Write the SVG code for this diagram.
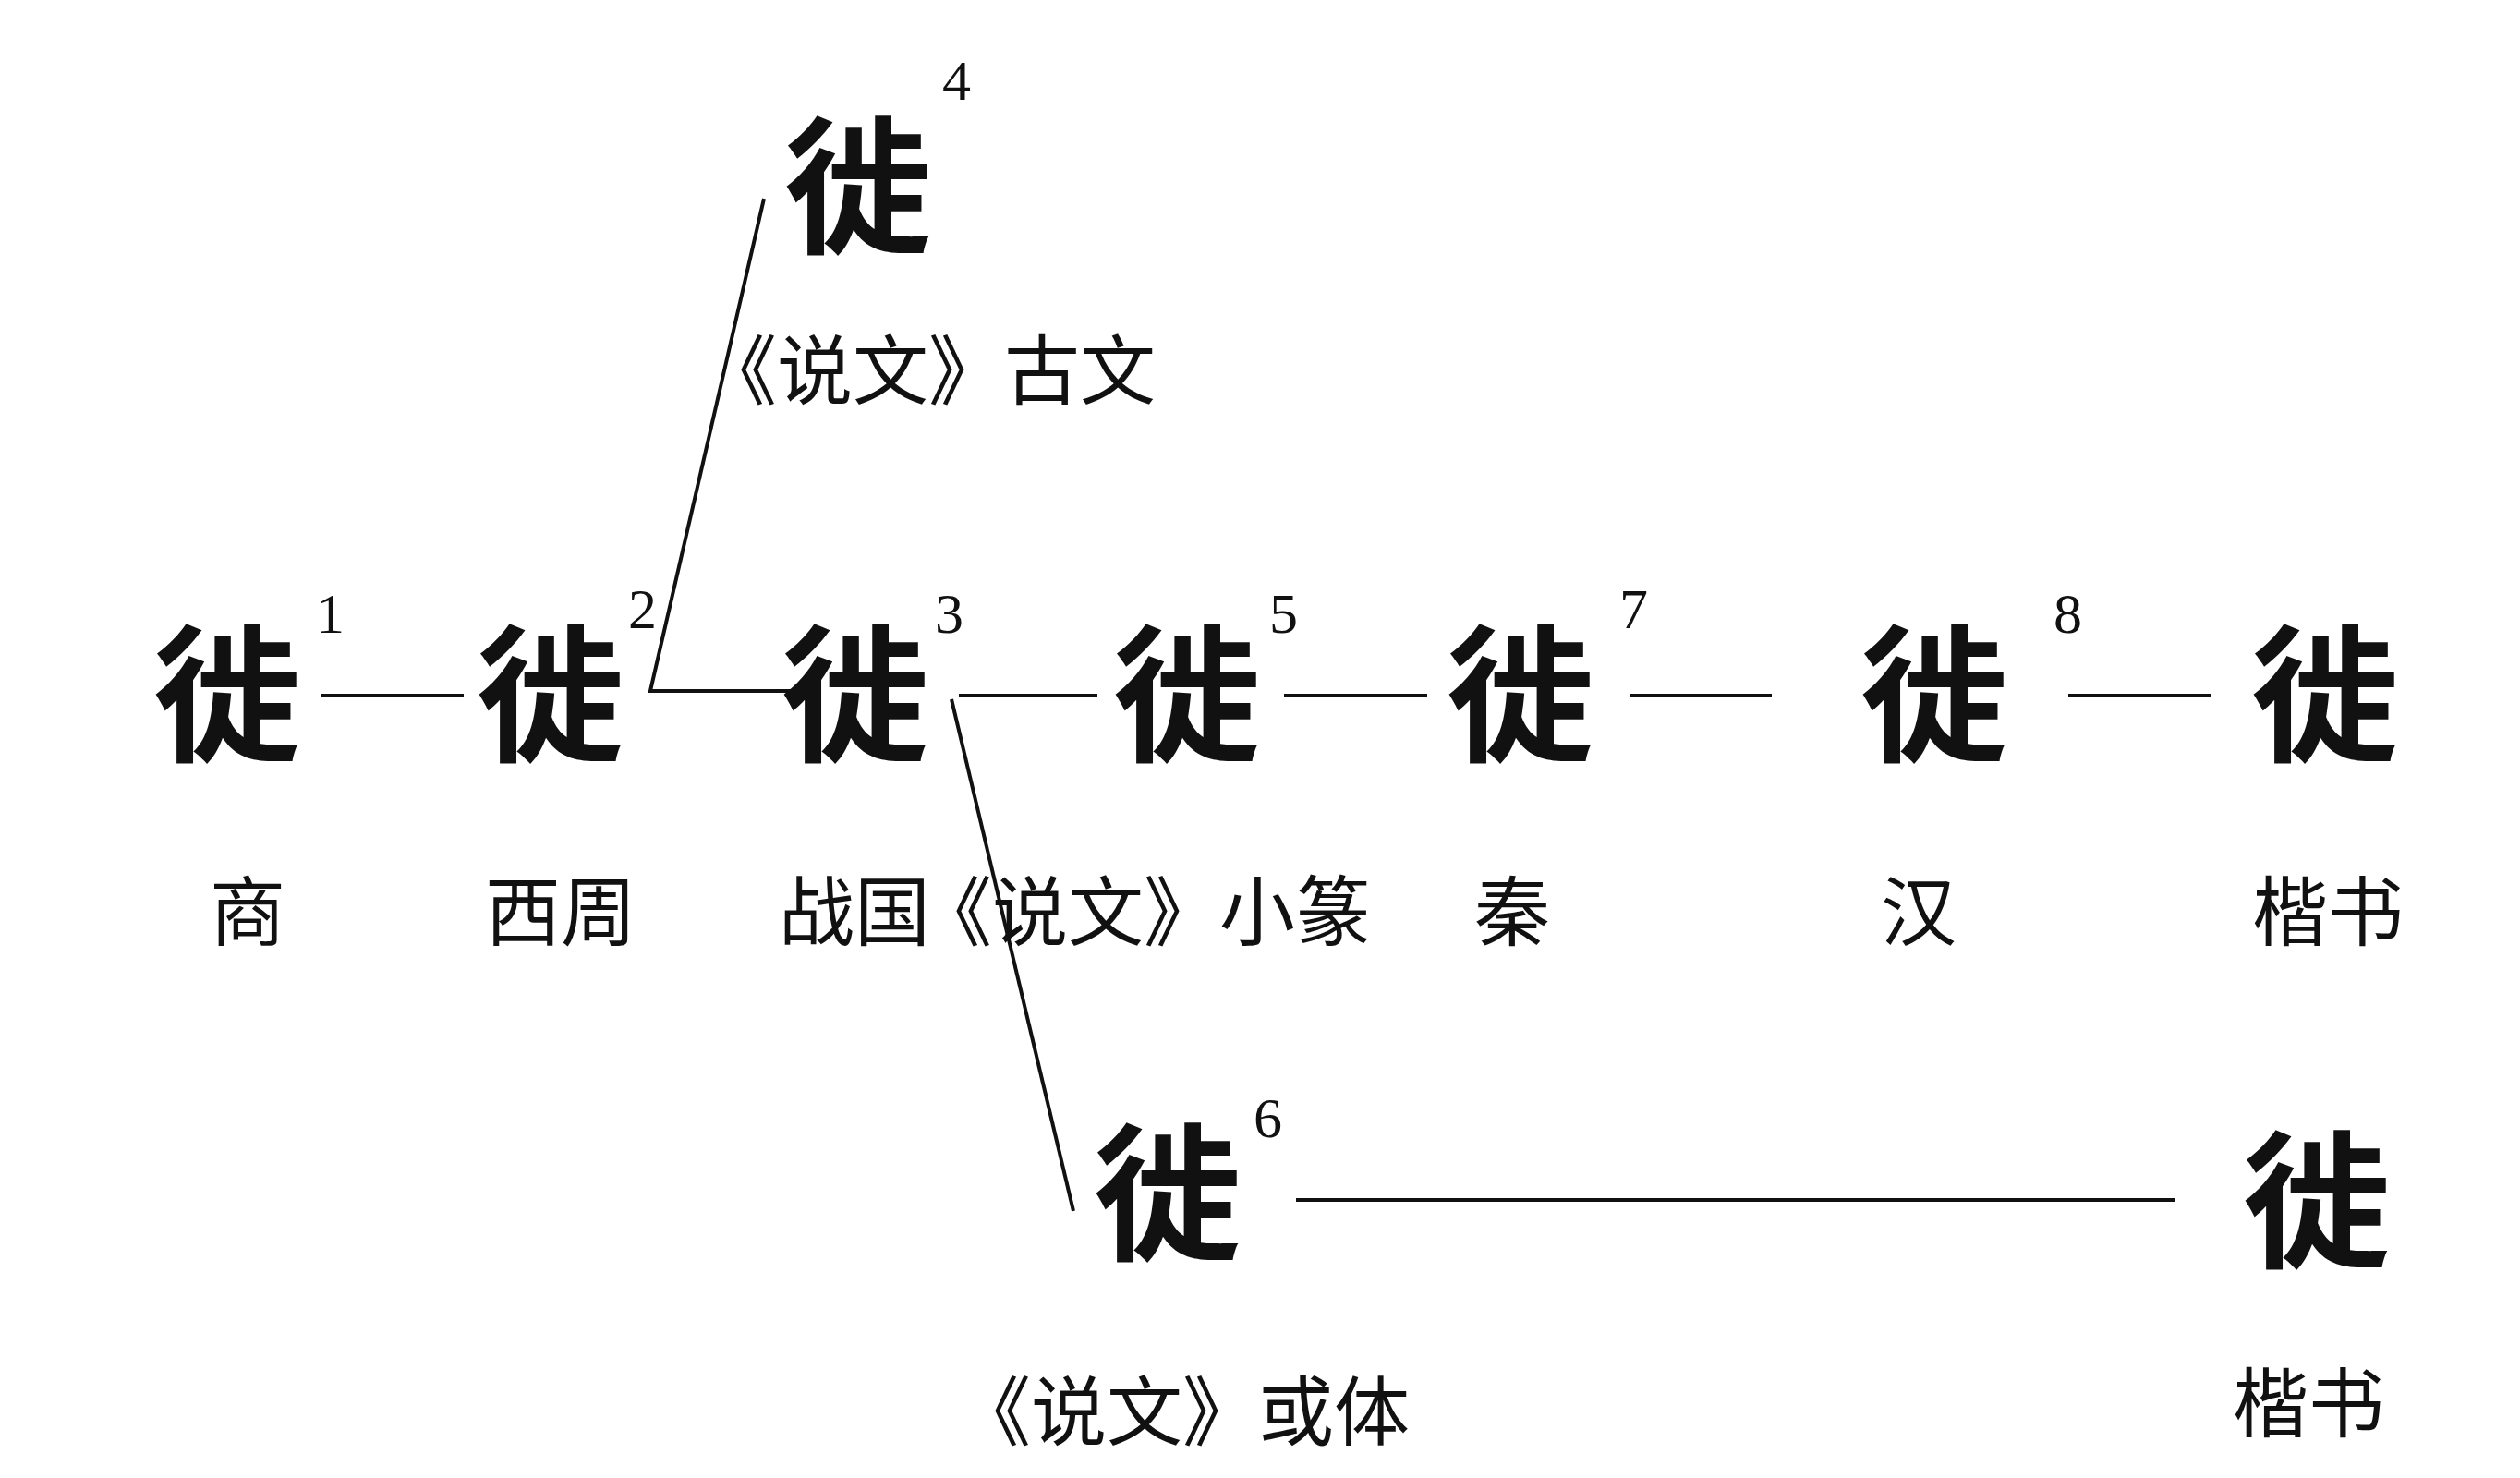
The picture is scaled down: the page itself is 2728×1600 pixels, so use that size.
<svg xmlns="http://www.w3.org/2000/svg" width="2728" height="1600" viewBox="0 0 2728 1600">
<style>
.g{font-family:"Noto Sans CJK SC",sans-serif;font-size:160px;font-weight:700;text-anchor:middle;fill:#111}
.l{font-family:"Noto Sans CJK SC",sans-serif;font-size:82px;text-anchor:middle;fill:#111}
.n{font-family:"Liberation Serif",serif;font-size:62px;fill:#111}
.c{stroke:#111;stroke-width:4;fill:none}
</style>
<rect width="2728" height="1600" fill="#fff"/>
<g id="connectors">
<line class="c" x1="347" y1="753" x2="502" y2="753"/>
<polyline class="c" points="827,215 704,748 862,748"/>
<line class="c" x1="1038" y1="753" x2="1188" y2="753"/>
<line class="c" x1="1030" y1="757" x2="1162" y2="1311"/>
<line class="c" x1="1390" y1="753" x2="1545" y2="753"/>
<line class="c" x1="1765" y1="753" x2="1918" y2="753"/>
<line class="c" x1="2239" y1="753" x2="2394" y2="753"/>
<line class="c" x1="1403" y1="1299" x2="2355" y2="1299"/>
</g>
<g id="n1"><text class="g" x="246" y="812">徙</text><text class="n" x="342" y="685">1</text><text class="l" x="268" y="1017">商</text></g>
<g id="n2"><text class="g" x="596" y="812">徙</text><text class="n" x="680" y="680">2</text><text class="l" x="607" y="1017">西周</text></g>
<g id="n3"><text class="g" x="926" y="812">徙</text><text class="n" x="1012" y="685">3</text><text class="l" x="925" y="1017">战国</text></g>
<g id="n4"><text class="g" x="929" y="262">徙</text><text class="n" x="1020" y="108">4</text><text class="l" x="1005" y="431">《说文》古文</text></g>
<g id="n5"><text class="g" x="1285" y="812">徙</text><text class="n" x="1374" y="685">5</text><text class="l" x="1238" y="1017">《说文》小篆</text></g>
<g id="n7"><text class="g" x="1646" y="812">徙</text><text class="n" x="1753" y="680">7</text><text class="l" x="1637" y="1017">秦</text></g>
<g id="n8"><text class="g" x="2094" y="812">徙</text><text class="n" x="2223" y="685">8</text><text class="l" x="2077" y="1017">汉</text></g>
<g id="n9"><text class="g" x="2517" y="812">徙</text><text class="l" x="2520" y="1017">楷书</text></g>
<g id="n6"><text class="g" x="1264" y="1352">徙</text><text class="n" x="1357" y="1231">6</text><text class="l" x="1280" y="1558">《说文》或体</text></g>
<g id="n10"><text class="g" x="2508" y="1360">徙</text><text class="l" x="2499" y="1549">楷书</text></g>
</svg>
